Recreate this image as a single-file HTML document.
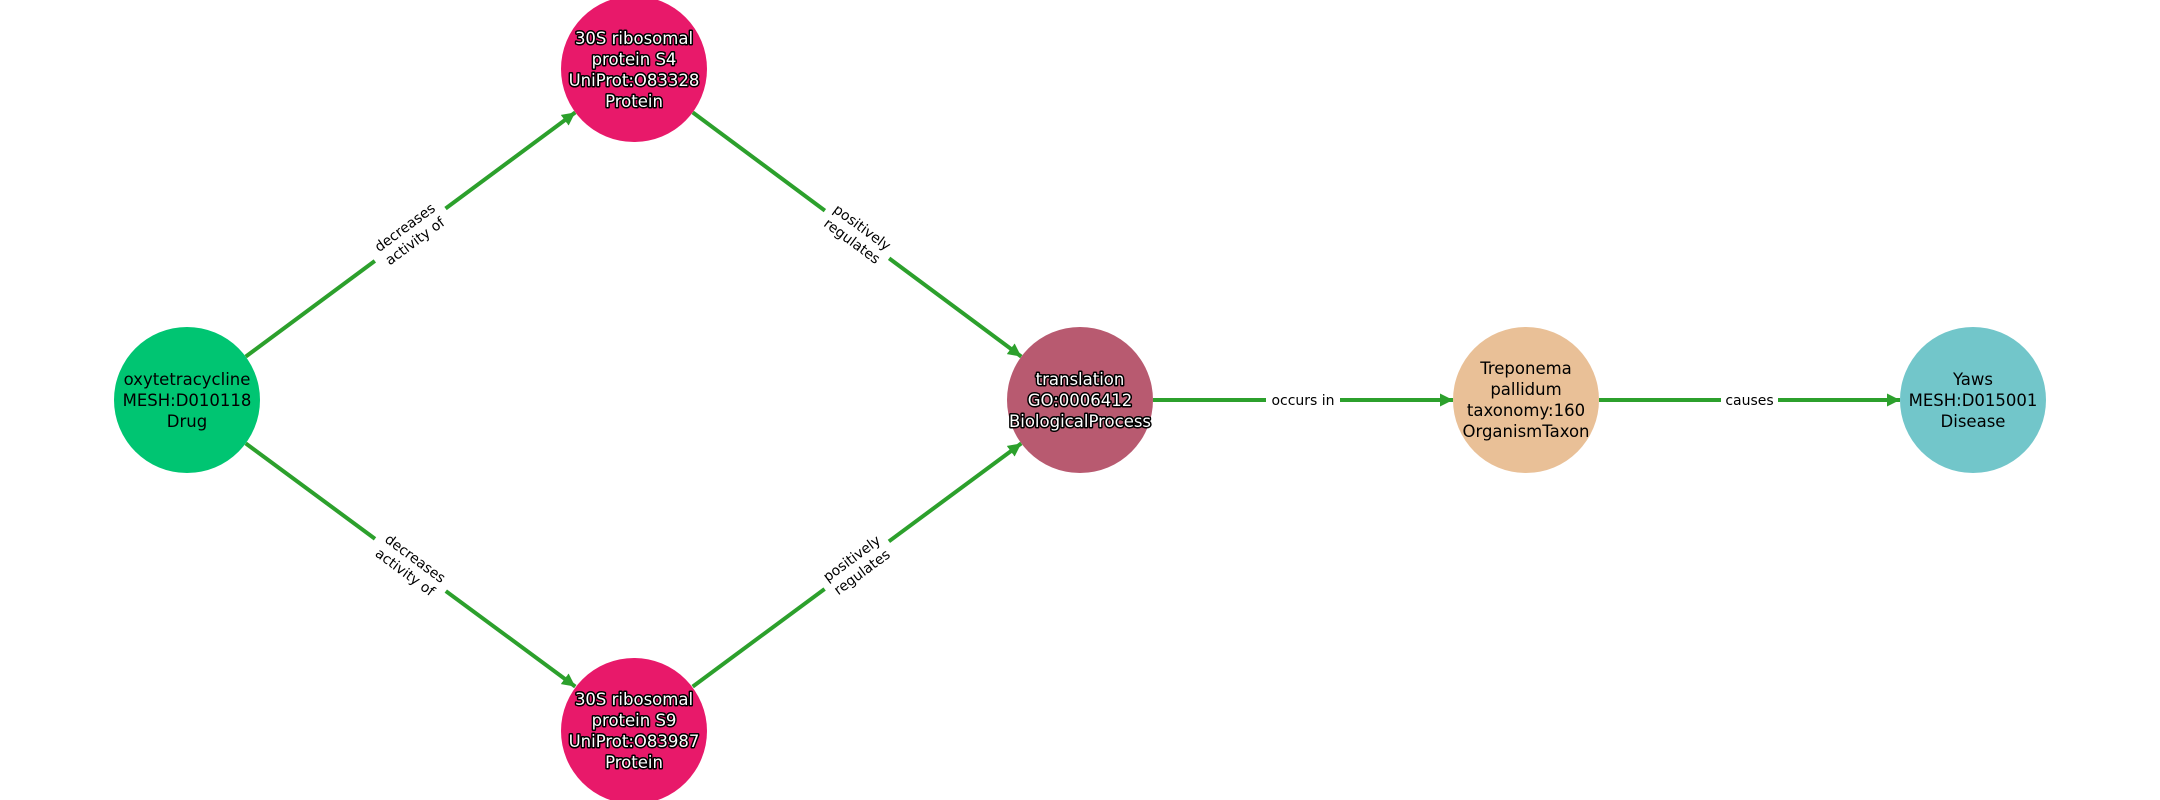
<!DOCTYPE html>
<html><head><meta charset="utf-8"><style>
html,body{margin:0;padding:0;background:#fff;}
svg{display:block;}
text{font-family:"DejaVu Sans","Liberation Sans",sans-serif;}
.n{font-size:16.5px;text-anchor:middle;fill:#000;}
.w{fill:#fff;stroke:#000;stroke-width:3px;paint-order:stroke;stroke-linejoin:round;}
.e{font-size:14px;text-anchor:middle;fill:#000;}
</style></head><body>
<svg width="2160" height="800" viewBox="0 0 2160 800" xmlns="http://www.w3.org/2000/svg">
<defs>
<marker id="a" viewBox="0 0 10 10" refX="10" refY="5" markerWidth="3.3" markerHeight="3.3" orient="auto" markerUnits="strokeWidth">
<path d="M0,0 L10,5 L0,10 z" fill="#2ca02c"/></marker>
</defs>
<g stroke="#2ca02c" stroke-width="4" fill="none" marker-end="url(#a)">
<line x1="245.7" y1="356.6" x2="575.3" y2="112.4"/>
<line x1="245.7" y1="443.4" x2="575.3" y2="686.6"/>
<line x1="692.7" y1="112.4" x2="1021.3" y2="356.6"/>
<line x1="692.7" y1="686.6" x2="1021.3" y2="443.4"/>
<line x1="1153" y1="400" x2="1453" y2="400"/>
<line x1="1599" y1="400" x2="1900" y2="400"/>
</g>
<g transform="translate(410,234.5) rotate(-36.5)"><rect x="-44" y="-20" width="88" height="40" fill="#fff"/><text class="e" y="-4">decreases</text><text class="e" y="13">activity of</text></g>
<g transform="translate(410,565.5) rotate(36.5)"><rect x="-44" y="-20" width="88" height="40" fill="#fff"/><text class="e" y="-4">decreases</text><text class="e" y="13">activity of</text></g>
<g transform="translate(857,234.5) rotate(36.5)"><rect x="-40" y="-20" width="80" height="40" fill="#fff"/><text class="e" y="-4">positively</text><text class="e" y="13">regulates</text></g>
<g transform="translate(857,565.5) rotate(-36.5)"><rect x="-40" y="-20" width="80" height="40" fill="#fff"/><text class="e" y="-4">positively</text><text class="e" y="13">regulates</text></g>
<rect x="1266" y="388" width="74" height="24" fill="#fff"/><text class="e" x="1303" y="405">occurs in</text>
<rect x="1721" y="388" width="57" height="24" fill="#fff"/><text class="e" x="1749.5" y="405">causes</text>

<circle cx="187" cy="400" r="73" fill="#00c572"/>
<text class="n" x="187" y="385">oxytetracycline</text><text class="n" x="187" y="406">MESH:D010118</text><text class="n" x="187" y="427">Drug</text>

<circle cx="634" cy="69" r="73" fill="#e8196a"/>
<g class="n w"><text x="634" y="44">30S ribosomal</text><text x="634" y="65">protein S4</text><text x="634" y="86">UniProt:O83328</text><text x="634" y="107">Protein</text></g>

<circle cx="634" cy="731" r="73" fill="#e8196a"/>
<g class="n w"><text x="634" y="705">30S ribosomal</text><text x="634" y="726">protein S9</text><text x="634" y="747">UniProt:O83987</text><text x="634" y="768">Protein</text></g>

<circle cx="1080" cy="400" r="73" fill="#b85a70"/>
<g class="n w"><text x="1080" y="385">translation</text><text x="1080" y="406">GO:0006412</text><text x="1080" y="427">BiologicalProcess</text></g>

<circle cx="1526" cy="400" r="73" fill="#e9c097"/>
<text class="n" x="1526" y="374">Treponema</text><text class="n" x="1526" y="395">pallidum</text><text class="n" x="1526" y="416">taxonomy:160</text><text class="n" x="1526" y="437">OrganismTaxon</text>

<circle cx="1973" cy="400" r="73" fill="#72c6ca"/>
<text class="n" x="1973" y="385">Yaws</text><text class="n" x="1973" y="406">MESH:D015001</text><text class="n" x="1973" y="427">Disease</text>
</svg>
</body></html>
